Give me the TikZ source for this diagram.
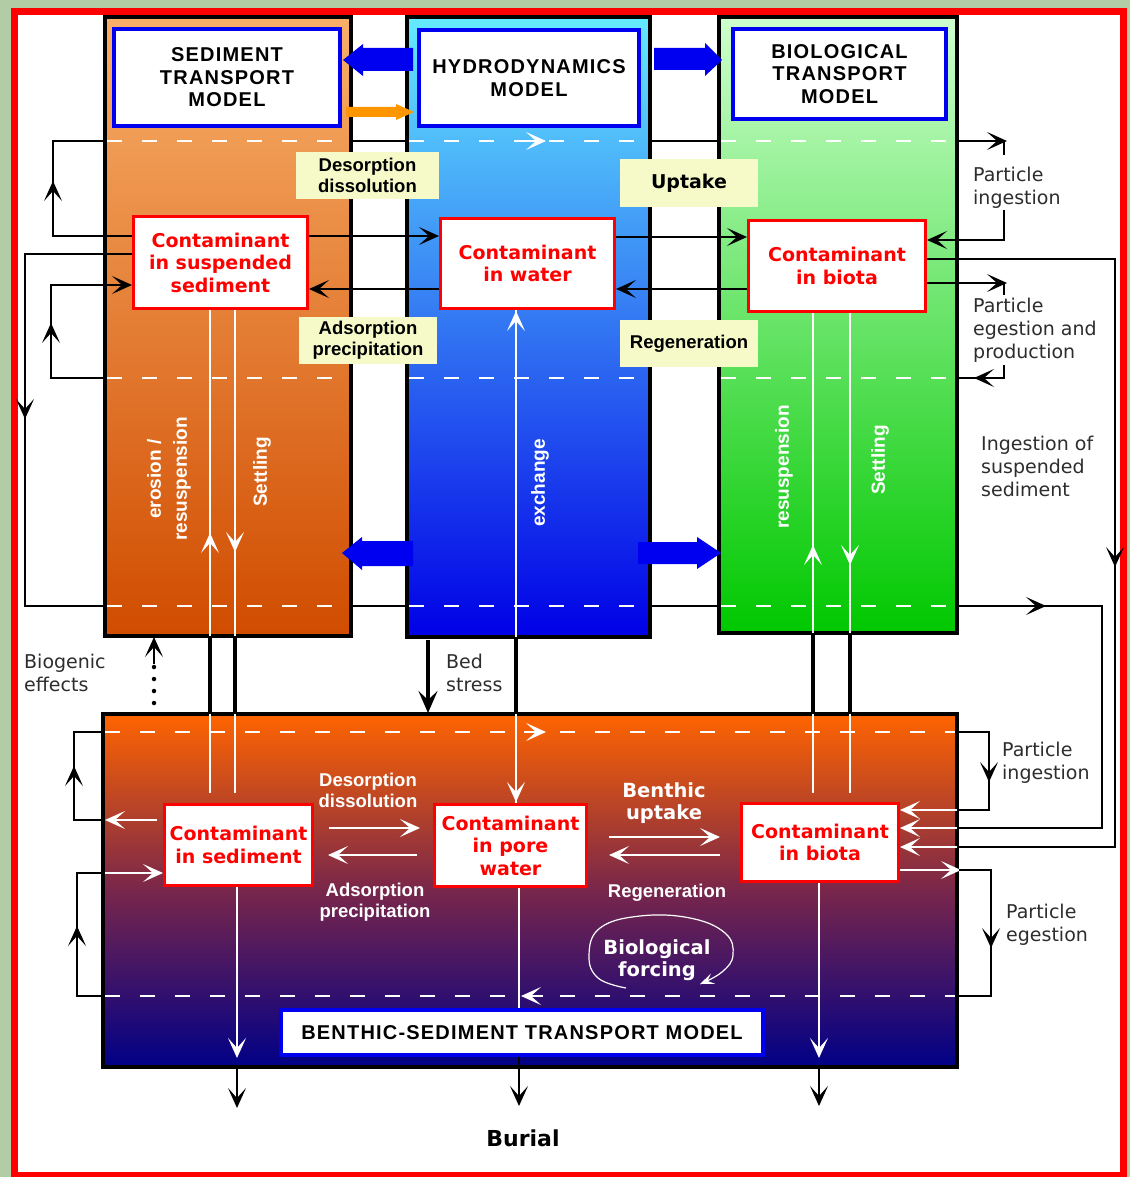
\documentclass[tikz,border=0pt]{standalone}
\usepackage{fontspec}
\setmainfont{DejaVu Sans}
\newfontfamily\lsans{Liberation Sans}
\newfontfamily\lsansLS[LetterSpace=6]{Liberation Sans}
\newfontfamily\dvs{DejaVu Sans}
\usetikzlibrary{arrows.meta,calc}

\definecolor{bggreen}{RGB}{178,204,166}
\definecolor{fred}{RGB}{255,0,0}
\definecolor{mblue}{RGB}{0,0,240}
\definecolor{sedtop}{RGB}{248,175,105}
\definecolor{sedbot}{RGB}{208,76,0}
\definecolor{hydtop}{RGB}{100,235,255}
\definecolor{hydbot}{RGB}{0,0,230}
\definecolor{biotop}{RGB}{205,255,205}
\definecolor{biobot}{RGB}{0,200,0}
\definecolor{bentop}{RGB}{255,100,0}
\definecolor{benmid}{RGB}{120,38,75}
\definecolor{benbot}{RGB}{0,0,135}
\definecolor{ylw}{RGB}{245,250,200}
\definecolor{orng}{RGB}{255,150,0}
\definecolor{thintxt}{RGB}{45,45,45}

\tikzset{
 >={Stealth[length=20pt,width=18pt,inset=10pt]},
 blk/.style={draw=black,line width=1.3pt},
 wht/.style={draw=white,line width=2.5pt},
 wdash/.style={draw=white,line width=1.5pt,dash pattern=on 15pt off 20pt},
 gapline/.style={draw=black,line width=3.5pt},
 column/.style={draw=black,line width=4pt},
 modelbox/.style={draw=mblue,line width=4pt,fill=white,align=center,inner sep=0pt,font={\lsansLS\bfseries\fontsize{20}{22.5}\selectfont}},
 contbox/.style={draw=fred,line width=3pt,fill=white,align=center,inner sep=0pt,text=fred,font={\dvs\bfseries\fontsize{19}{22.5}\selectfont}},
 ybox/.style={fill=ylw,align=center,inner sep=0pt,font={\lsans\bfseries\fontsize{18.5}{21}\selectfont}},
 thinlab/.style={align=left,anchor=west,inner sep=0pt,text=thintxt,font={\dvs\fontsize{19}{23}\selectfont}},
 rotlab/.style={rotate=90,align=center,inner sep=0pt,text=white,font={\lsans\bfseries\fontsize{19}{26}\selectfont}},
 wlab/.style={align=center,inner sep=0pt,text=white,font={\lsans\bfseries\fontsize{18.5}{21}\selectfont}},
 wlabv/.style={align=center,inner sep=0pt,text=white,font={\dvs\bfseries\fontsize{19.5}{22}\selectfont}},
}
\newcommand{\arrhd}[3]{\draw[#1,line width=1.3pt,->] ($(#2)+(#3)$) -- (#2);}

\begin{document}
\begin{tikzpicture}[x=1pt,y=-1pt]
\useasboundingbox (0,0) rectangle (1130,1177);
\fill[bggreen] (0,0) rectangle (1130,1177);
\fill[white] (14,11) rectangle (1123,1175);
\draw[fred,line width=7pt] (14.5,11.5) rectangle (1123.5,1175);

% columns
\draw[column,top color=sedtop,bottom color=sedbot] (105,17) rectangle (351,636);
\draw[column,top color=hydtop,bottom color=hydbot] (407,17) rectangle (650,637);
\draw[column,top color=biotop,bottom color=biobot] (719,17) rectangle (957,633);
\draw[column,top color=bentop,bottom color=benbot,middle color=benmid] (103,714) rectangle (957,1067);

% white dashed levels
\foreach \yy in {141,378,606} {
  \draw[wdash] (107,\yy) -- (349,\yy);
  \draw[wdash] (409,\yy) -- (648,\yy);
  \draw[wdash] (721,\yy) -- (955,\yy);
}
\draw[wdash] (105,732) -- (955,732);
\draw[wdash] (105,996) -- (955,996);
\arrhd{white}{546,141}{-22,0}
\arrhd{white}{546,732}{-22,0}
\arrhd{white}{521,996}{22,0}

% block arrows
\fill[mblue] (343,60) -- (363,44) -- (363,48) -- (413,48) -- (413,71) -- (363,71) -- (363,76) -- cycle;
\fill[orng] (346,107) -- (396,107) -- (396,104) -- (414,112) -- (396,120) -- (396,117) -- (346,117) -- cycle;
\fill[mblue] (654,48) -- (705,48) -- (705,43) -- (722,60) -- (705,76) -- (705,70) -- (654,70) -- cycle;
\fill[mblue] (342,553) -- (362,537) -- (362,541) -- (413,541) -- (413,566) -- (362,566) -- (362,570) -- cycle;
\fill[mblue] (638,542) -- (697,542) -- (697,537) -- (721,553) -- (697,569) -- (697,564) -- (638,564) -- cycle;

% model boxes
\node[modelbox,minimum width=226pt,minimum height=97pt] (stm) at (227,77.5) {SEDIMENT\\TRANSPORT\\MODEL};
\node[modelbox,minimum width=220pt,minimum height=96pt] (hdm) at (529,78) {HYDRODYNAMICS\\MODEL};
\node[modelbox,minimum width=213pt,minimum height=90pt] (btm) at (839.5,74) {BIOLOGICAL\\TRANSPORT\\MODEL};
\node[modelbox,minimum width=482pt,minimum height=45pt] (bstm) at (522,1032.5) {BENTHIC-SEDIMENT TRANSPORT MODEL};

% yellow labels
\node[ybox,minimum width=143pt,minimum height=47pt] (desorp) at (367.5,175.5) {Desorption\\dissolution};
\node[ybox,minimum width=138pt,minimum height=47pt] (adsorp) at (368,340.5) {Adsorption\\precipitation};
\node[ybox,minimum width=138pt,minimum height=48pt,font={\dvs\bfseries\fontsize{19}{22}\selectfont}] (uptake) at (689,183) {Uptake};
\node[ybox,minimum width=138pt,minimum height=47pt] (regen) at (689,343.5) {Regeneration};

% contaminant boxes
\node[contbox,minimum width=174pt,minimum height=92pt] (sus) at (220.5,262.5) {Contaminant\\in suspended\\sediment};
\node[contbox,minimum width=174pt,minimum height=90pt] (water) at (527.5,263.5) {Contaminant\\in water};
\node[contbox,minimum width=177pt,minimum height=91pt] (bio) at (837,266) {Contaminant\\in biota};
\node[contbox,minimum width=148pt,minimum height=81pt] (sedb) at (238.5,845) {Contaminant\\in sediment};
\node[contbox,minimum width=152pt,minimum height=82pt] (pore) at (510.5,845.5) {Contaminant\\in pore\\water};
\node[contbox,minimum width=157pt,minimum height=78pt] (bbio) at (820,842.5) {Contaminant\\in biota};

% rotated labels
\node[rotlab] (eros) at (169,479) {erosion /\\resuspension};
\node[rotlab] (sett1) at (262,472) {Settling};
\node[rotlab] (exch) at (540,483) {exchange};
\node[rotlab] (resus) at (784,467) {resuspension};
\node[rotlab] (sett2) at (880,460) {Settling};

% bottom white labels
\node[wlab] (bdes) at (368,790) {Desorption\\dissolution};
\node[wlab] (bads) at (375,902) {Adsorption\\precipitation};
\node[wlabv] (bup) at (664,803) {Benthic\\uptake};
\node[wlab] (breg) at (667,893) {Regeneration};
\node[wlabv] (bforce) at (657,960) {Biological\\forcing};

% thin labels
\node[thinlab] (pi1) at (973,188) {Particle\\ingestion};
\node[thinlab] (pe1) at (973,330) {Particle\\egestion and\\production};
\node[thinlab] (iss) at (981,466) {Ingestion of\\suspended\\sediment};
\node[thinlab] (bgen) at (24,673) {Biogenic\\effects};
\node[thinlab] (bed) at (446,673) {Bed\\stress};
\node[thinlab] (pi2) at (1002,763) {Particle\\ingestion};
\node[thinlab] (pe2) at (1006,925) {Particle\\egestion};
\node[font={\dvs\bfseries\fontsize{22}{26}\selectfont},inner sep=0pt] (burial) at (523,1138) {Burial};

% ---- top-section connectors
\draw[blk,->] (sus.east |- 0,236) -- (water.west |- 0,236);
\draw[blk,->] (water.west |- 0,289) -- (sus.east |- 0,289);
\draw[blk,->] (water.east |- 0,237) -- (bio.west |- 0,237);
\draw[blk,->] (bio.west |- 0,289) -- (water.east |- 0,289);

% left loops
\draw[blk] (sus.west |- 0,236) -- (53,236) -- (53,141) -- (105,141);
\arrhd{black}{53,181}{0,21}
\draw[blk] (sus.west |- 0,254) -- (25,254) -- (25,606) -- (105,606);
\arrhd{black}{25,419}{0,-21}
\draw[blk,->] (105,378) -- (51,378) -- (51,285) -- (sus.west |- 0,285);
\arrhd{black}{51,323}{0,21}

% gaps between columns
\draw[blk] (351,141) -- (407,141);
\draw[blk] (650,141) -- (719,141);
\draw[blk] (351,606) -- (407,606);
\draw[blk] (650,606) -- (719,606);

% right loops
\draw[blk,->] (957,141) -- (1007,141);
\draw[blk] (1004,141) -- (1004,155);
\draw[blk,->] (1004,210) -- (1004,240) -- (bio.east |- 0,240);
\draw[blk,->] (bio.east |- 0,283) -- (1007,283);
\draw[blk] (1004,283) -- (1004,295);
\draw[blk] (1004,365) -- (1004,378) -- (957,378);
\arrhd{black}{974,378}{24,0}
\draw[blk] (bio.east |- 0,259) -- (1115,259) -- (1115,847) -- (957,847);
\arrhd{black}{1115,567}{0,-22}
\draw[wht,line width=1.8pt,->] (957,847) -- (bbio.east |- 0,847);
\draw[blk] (957,606) -- (1102,606) -- (1102,828) -- (957,828);
\arrhd{black}{1046,606}{-24,0}
\draw[wht,line width=1.8pt,->] (957,828) -- (bbio.east |- 0,828);

% vertical links between upper and lower compartments
\foreach \xx in {210,235} {
  \draw[wht] (sus.south -| \xx,0) -- (\xx,636);
  \draw[gapline] (\xx,636) -- (\xx,714);
  \draw[wht] (\xx,714) -- (\xx,793);
}
\arrhd{white}{210,533}{0,22}
\arrhd{white}{235,552}{0,-22}
\draw[wht] (water.south -| 516,0) -- (516,637);
\draw[gapline] (516,637) -- (516,714);
\draw[wht] (516,714) -- (pore.north -| 516,0);
\arrhd{white}{516,311}{0,24}
\arrhd{white}{516,802}{0,-24}
\foreach \xx in {813,850} {
  \draw[wht] (bio.south -| \xx,0) -- (\xx,633);
  \draw[gapline] (\xx,633) -- (\xx,714);
  \draw[wht] (\xx,714) -- (\xx,793);
}
\arrhd{white}{813,545}{0,22}
\arrhd{white}{850,565}{0,-22}

% bed stress and biogenic effects
\draw[black,line width=3.5pt,-{Stealth[length=22pt,width=19pt,inset=9pt]}] (428,640) -- (428,713);
\draw[black,line width=4.5pt,line cap=round,dash pattern=on 0pt off 12pt] (154,703) -- (154,666);
\draw[blk,line width=1.6pt,->] (154,664) -- (154,637);

% ---- bottom box connectors
\draw[wht,line width=1.8pt,->,shorten <=15pt,shorten >=13pt] (sedb.east |- 0,828) -- (pore.west |- 0,828);
\draw[wht,line width=1.8pt,->,shorten <=16pt,shorten >=14pt] (pore.west |- 0,855) -- (sedb.east |- 0,855);
\draw[wht,line width=1.8pt,->,shorten <=21pt,shorten >=20pt] (pore.east |- 0,837) -- (bbio.west |- 0,837);
\draw[wht,line width=1.8pt,->,shorten <=20pt,shorten >=21pt] (bbio.west |- 0,855) -- (pore.east |- 0,855);

\draw[blk] (103,732) -- (74,732) -- (74,820) -- (103,820);
\arrhd{black}{74,766}{0,22}
\draw[wht,line width=1.8pt,->,shorten <=6pt] (sedb.west |- 0,820) -- (105,820);
\draw[blk] (103,996) -- (77,996) -- (77,873) -- (103,873);
\arrhd{black}{77,926}{0,22}
\draw[wht,line width=1.8pt,->] (105,873) -- (sedb.west |- 0,873);

\draw[blk] (957,732) -- (989,732) -- (989,810) -- (957,810);
\arrhd{black}{989,782}{0,-22}
\draw[wht,line width=1.8pt,->] (957,810) -- (bbio.east |- 0,810);
\draw[wht,line width=1.8pt,->] (bbio.east |- 0,870) -- (961,870);
\draw[blk] (959,870) -- (991,870) -- (991,996) -- (957,996);
\arrhd{black}{991,948}{0,-22}

% burial
\draw[wht,->] (sedb.south -| 237,0) -- (237,1058);
\draw[blk,->] (237,1068) -- (237,1108);
\draw[wht] (pore.south -| 519,0) -- (519,1008);
\draw[blk,->] (bstm.south -| 519,0) -- (519,1106);
\draw[wht,->] (bbio.south -| 819,0) -- (819,1058);
\draw[blk,->] (819,1068) -- (819,1106);

% biological forcing loop
\draw[white,line width=1.2pt,-{Stealth[length=14pt,width=11pt,inset=6pt]}] plot[smooth,tension=0.7] coordinates {(626,988) (598,978) (589,955) (600,928) (640,916) (690,918) (725,933) (733,955) (722,972) (700,984)};
\end{tikzpicture}
\end{document}
